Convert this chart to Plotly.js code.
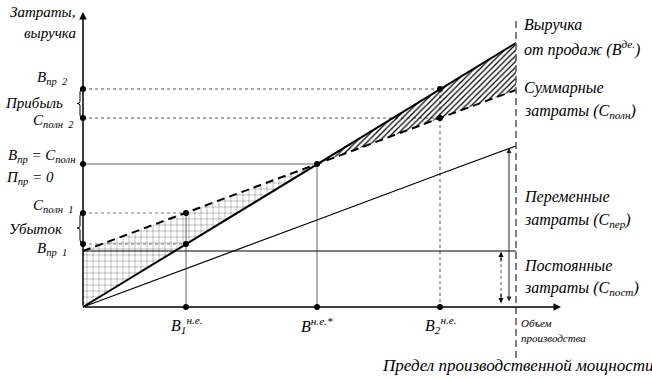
<!DOCTYPE html>
<html><head><meta charset="utf-8">
<script src="https://cdn.plot.ly/plotly-3.0.1.min.js"></script>
<style>html,body{margin:0;padding:0;background:#fff}#chart{width:652px;height:380px}</style>
</head><body><div id="chart"></div>
<script>
// Data (units)
const volume       = [0, 103, 234, 357, 433];   // 0, B1, B*, B2, capacity limit
const revenue      = [0, 63, 143, 218, 264];
const totalCost    = [56, 94, 143, 189, 217];
const variableCost = [0, 38, 87, 133, 161];
const fixedCost    = [56, 56, 56, 56, 56];
const xTickLabels  = ['', 'В<sub>1</sub><sup>н.е.</sup>', 'В<sup>н.е.*</sup>', 'В<sub>2</sub><sup>н.е.</sup>', ''];

// pixel helpers for layout placement (plot area covers whole page)
const PX = p => p - 83;
const PY = p => 307 - p;
const F = {family: 'Liberation Serif, Times New Roman, serif', size: 15, color: '#000', style: 'italic'};
const Fs = s => Object.assign({}, F, {size: s});

const traces = [];
// loss region (dotted grid)
traces.push({
  x: [volume[0], volume[1], volume[2], volume[1], volume[0]],
  y: [revenue[0], revenue[1], revenue[2], totalCost[1], totalCost[0]],
  type: 'scatter', mode: 'lines', fill: 'toself', line: {width: 0},
  fillcolor: 'rgba(255,255,255,0)',
  fillpattern: {shape: '+', size: 6, solidity: 0.08, fgcolor: '#000', bgcolor: 'rgba(255,255,255,0)'},
  hoverinfo: 'skip', showlegend: false
});
// profit region (diagonal hatch)
traces.push({
  x: [volume[2], volume[3], volume[4], volume[4], volume[3], volume[2]],
  y: [revenue[2], revenue[3], revenue[4], totalCost[4], totalCost[3], totalCost[2]],
  type: 'scatter', mode: 'lines', fill: 'toself', line: {width: 0},
  fillcolor: 'rgba(255,255,255,0)',
  fillpattern: {shape: '/', size: 4, solidity: 0.3, fgcolor: '#000', bgcolor: 'rgba(255,255,255,0)'},
  hoverinfo: 'skip', showlegend: false
});
// fixed cost
traces.push({x: [volume[0], volume[4]], y: [fixedCost[0], fixedCost[4]], mode: 'lines', line: {color: '#000', width: 1}, showlegend: false});
// variable cost
traces.push({x: volume, y: variableCost, mode: 'lines', line: {color: '#000', width: 1.2}, showlegend: false});
// revenue
traces.push({x: volume, y: revenue, mode: 'lines', line: {color: '#000', width: 2}, showlegend: false});
// total cost
traces.push({x: volume, y: totalCost, mode: 'lines', line: {color: '#000', width: 2, dash: '8px,5px'}, showlegend: false});
// markers
traces.push({
  x: [0, 0, 0, 0, 0, volume[1], volume[1], volume[2], volume[3], volume[3], volume[1], volume[2], volume[3]],
  y: [revenue[3], totalCost[3], revenue[2], totalCost[1], revenue[1], totalCost[1], revenue[1], revenue[2], revenue[3], totalCost[3], 0, 0, 0],
  mode: 'markers', marker: {color: '#000', size: 6}, showlegend: false, cliponaxis: false
});

const shapes = [];
const gl = (x0, y0, x1, y1, dash, color) => shapes.push({type: 'line', xref: 'x', yref: 'y', x0, y0, x1, y1, layer: 'below', line: {color: color || '#666', width: 1, dash: dash || 'solid'}});
// guides at B1
gl(0, totalCost[1], volume[1], totalCost[1], 'dot', '#777');
gl(0, revenue[1], volume[1], revenue[1], 'dot', '#777');
gl(volume[1], totalCost[1], volume[1], 0, 'solid', '#666');
// guides at break-even
gl(0, revenue[2], volume[2], revenue[2], 'solid', '#666');
gl(volume[2], revenue[2], volume[2], 0, 'solid', '#666');
// guides at B2
gl(0, revenue[3], volume[3], revenue[3], 'dot', '#555');
gl(0, totalCost[3], volume[3], totalCost[3], 'dot', '#555');
gl(volume[3], revenue[3], volume[3], 0, 'dot', '#555');
// capacity limit
shapes.push({type: 'line', xref: 'x', yref: 'y', x0: volume[4], x1: volume[4], y0: PY(358), y1: PY(20), line: {color: '#555', width: 1.5, dash: '7px,4px'}});
// fixed-cost dimension arrow shaft (dotted)
const ax1 = volume[4] - 15, ax2 = volume[4] - 7;
shapes.push({type: 'line', xref: 'x', yref: 'y', x0: ax1, x1: ax1, y0: 4, y1: fixedCost[4] - 1, line: {color: '#555', width: 1, dash: 'dot'}});
// braces
const brace = (top, bot) => {
  const x0 = PX(83), x1 = PX(80), xt = PX(77);
  const m = (top + bot) / 2;
  return `M ${x0} ${PY(top)} Q ${x1} ${PY(top)} ${x1} ${PY(top + 3)} L ${x1} ${PY(m - 2)} Q ${x1} ${PY(m)} ${xt} ${PY(m)} Q ${x1} ${PY(m)} ${x1} ${PY(m + 2)} L ${x1} ${PY(bot - 3)} Q ${x1} ${PY(bot)} ${x0} ${PY(bot)}`;
};
shapes.push({type: 'path', xref: 'x', yref: 'y', path: brace(89, 118), line: {color: '#000', width: 1}});
shapes.push({type: 'path', xref: 'x', yref: 'y', path: brace(213, 243), line: {color: '#000', width: 1}});

const ann = [];
const arrow = (x, y, axv, ayv, w, extra) => ann.push(Object.assign({x, y, ax: axv, ay: ayv, xref: 'x', yref: 'y', axref: 'x', ayref: 'y', text: '', showarrow: true, arrowhead: 2, arrowsize: 1, arrowwidth: w, arrowcolor: '#000'}, extra || {}));
// axes
arrow(0, PY(12), 0, 0, 1.5);
arrow(PX(561), 0, 0, 0, 1.5);
// fixed cost arrow heads
arrow(ax1, fixedCost[4] - 1, ax1, fixedCost[4] - 12, 1);
arrow(ax1, 4, ax1, 15, 1);
// variable cost arrow (double)
arrow(ax2, variableCost[4] - 2, ax2, 4, 1, {arrowside: 'end+start', arrowcolor: '#222'});

const txt = (t, xp, yp, anchor, font) => ann.push({x: PX(xp), y: PY(yp), xref: 'x', yref: 'y', text: t, showarrow: false, xanchor: anchor || 'left', yanchor: 'middle', font: font || F});
txt('Затраты,', 78, 12, 'right');
txt('выручка', 78, 33, 'right');
txt('В<sub>пр  2</sub>', 35, 78);
txt('Прибыль', 3, 103);
txt('С<sub>полн  2</sub>', 31, 121);
txt('В<sub>пр</sub> = С<sub>полн</sub>', 6, 156);
txt('П<sub>пр</sub> = 0', 4, 178);
txt('С<sub>полн  1</sub>', 31, 206);
txt('Убыток', 7, 229);
txt('В<sub>пр  1</sub>', 35, 249);
txt('Выручка', 522, 25, 'left', Fs(16));
txt('от продаж (В<sup>де.</sup>)', 522, 48, 'left', Fs(16));
txt('Суммарные', 522, 88, 'left', Fs(16));
txt('затраты (С<sub>полн</sub>)', 522, 111, 'left', Fs(16));
txt('Переменные', 522, 197, 'left', Fs(16));
txt('затраты (С<sub>пер</sub>)', 522, 220, 'left', Fs(16));
txt('Постоянные', 522, 265, 'left', Fs(16));
txt('затраты (С<sub>пост</sub>)', 522, 288, 'left', Fs(16));
txt('Объем', 519, 323, 'left', Fs(11));
txt('производства', 519, 338, 'left', Fs(11));
txt('Предел производственной мощности', 380, 365, 'left', Fs(17));
for (let i = 1; i <= 3; i++) {
  ann.push({x: volume[i], y: PY(325), xref: 'x', yref: 'y', text: xTickLabels[i], showarrow: false, xanchor: 'center', yanchor: 'middle', font: Fs(16)});
}

const layout = {
  width: 652, height: 380,
  margin: {l: 0, r: 0, t: 0, b: 0},
  font: {family: 'Liberation Serif, Times New Roman, serif'},
  paper_bgcolor: '#fff', plot_bgcolor: '#fff',
  xaxis: {range: [-83, 569], visible: false, fixedrange: true},
  yaxis: {range: [-73, 307], visible: false, fixedrange: true},
  shapes, annotations: ann, showlegend: false
};
Plotly.newPlot('chart', traces, layout, {staticPlot: true});
</script></body></html>
